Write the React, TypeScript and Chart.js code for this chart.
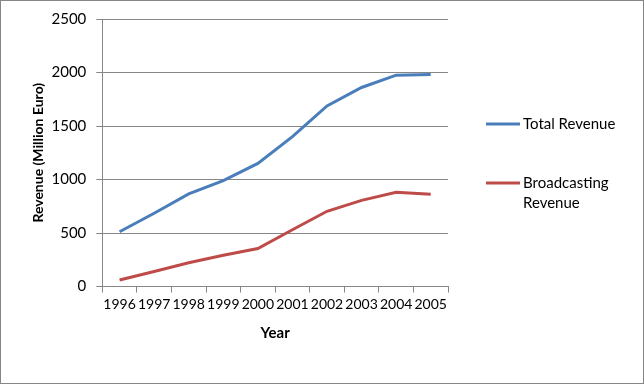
import React, { useEffect, useRef } from "react";
import { Chart, registerables } from "chart.js";

Chart.register(...registerables);

const years = ["1996", "1997", "1998", "1999", "2000", "2001", "2002", "2003", "2004", "2005"];
const totalRevenue = [512, 685, 865, 990, 1150, 1400, 1688, 1860, 1975, 1982];
const broadcastingRevenue = [60, 140, 222, 292, 355, 530, 703, 805, 880, 862];
const seriesLabels = [["Total Revenue"], ["Broadcasting", "Revenue"]];
const yTicks = [0, 500, 1000, 1500, 2000, 2500];

const FONT = "Lato, 'Liberation Sans', sans-serif";
const GRID = "#868686";

const frameAndLegend = {
  id: "frameAndLegend",
  beforeDraw(chart: any) {
    const ctx = chart.ctx;
    ctx.save();
    ctx.fillStyle = "#ffffff";
    ctx.fillRect(0, 0, chart.width, chart.height);
    ctx.restore();
  },
  afterDraw(chart: any) {
    const ctx = chart.ctx;
    const area = chart.chartArea;
    ctx.save();
    ctx.strokeStyle = GRID;
    ctx.lineWidth = 1;
    ctx.strokeRect(0.5, 0.5, chart.width - 1, chart.height - 1);
    const x0 = area.right + 38;
    const lineLen = 34;
    const rows = [124, 183];
    ctx.font = "15px " + FONT;
    ctx.textBaseline = "middle";
    ctx.textAlign = "left";
    chart.data.datasets.forEach((ds: any, i: number) => {
      const y = rows[i];
      ctx.strokeStyle = ds.borderColor;
      ctx.lineWidth = 3;
      ctx.beginPath();
      ctx.moveTo(x0, y);
      ctx.lineTo(x0 + lineLen, y);
      ctx.stroke();
      ctx.fillStyle = "#000000";
      seriesLabels[i].forEach((t, j) => {
        ctx.fillText(t, x0 + lineLen + 3, y + j * 20);
      });
    });
    ctx.restore();
  },
};

export default function App() {
  const ref = useRef<HTMLCanvasElement | null>(null);
  useEffect(() => {
    document.body.style.margin = "0";
    const canvas = ref.current!;
    const chart = new Chart(canvas, {
      type: "line",
      data: {
        labels: years,
        datasets: [
          {
            label: "Total Revenue",
            data: totalRevenue,
            borderColor: "#4A7EBB",
            backgroundColor: "#4A7EBB",
            borderWidth: 3,
            pointRadius: 0,
            tension: 0,
          },
          {
            label: "Broadcasting Revenue",
            data: broadcastingRevenue,
            borderColor: "#BE4B48",
            backgroundColor: "#BE4B48",
            borderWidth: 3,
            pointRadius: 0,
            tension: 0,
          },
        ],
      },
      options: {
        responsive: false,
        animation: false,
        devicePixelRatio: 1,
        layout: { padding: { left: 0, top: 19, right: 196, bottom: 0 } },
        plugins: { legend: { display: false }, tooltip: { enabled: false } },
        scales: {
          x: {
            type: "category",
            offset: true,
            grid: {
              offset: true,
              drawOnChartArea: false,
              drawTicks: true,
              tickLength: 6,
              color: GRID,
            },
            border: { display: true, color: GRID },
            ticks: {
              color: "#000000",
              font: { family: FONT, size: 14 },
              padding: 4,
              maxRotation: 0,
              autoSkip: false,
            },
            title: {
              display: true,
              text: "Year",
              color: "#000000",
              font: { family: FONT, size: 15, weight: "bold" },
              padding: { top: 0, bottom: 42 },
            },
            afterFit(scale: any) {
              scale.height = 97.5;
            },
          },
          y: {
            min: 0,
            max: 2500,
            afterBuildTicks(scale: any) {
              scale.ticks = yTicks.map((v) => ({ value: v }));
            },
            grid: { color: GRID, tickLength: 6, drawTicks: true },
            border: { display: true, color: GRID },
            ticks: {
              color: "#000000",
              font: { family: FONT, size: 15 },
              padding: 10,
              callback: (v: any) => String(v),
            },
            title: {
              display: true,
              text: "Revenue (Million Euro)",
              color: "#000000",
              font: { family: FONT, size: 14, weight: "bold" },
              padding: { top: 30, bottom: 0 },
            },
            afterFit(scale: any) {
              scale.width = 102.3;
            },
          },
        },
      },
      plugins: [frameAndLegend],
    } as any);
    return () => chart.destroy();
  }, []);
  return (
    <div style={{ position: "absolute", left: 0, top: 0, width: 644, height: 384 }}>
      <canvas ref={ref} width={644} height={384} style={{ display: "block" }} />
    </div>
  );
}
